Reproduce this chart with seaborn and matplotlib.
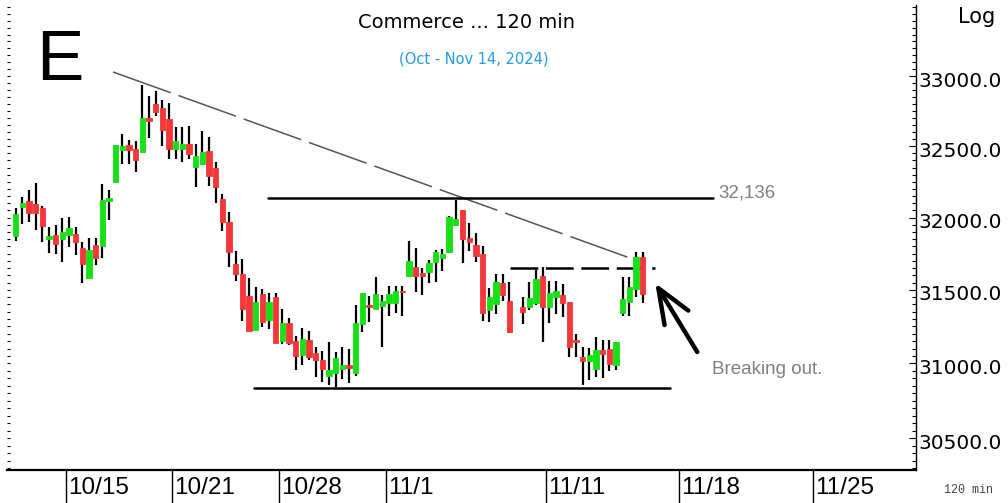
import numpy as np
import pandas as pd
import matplotlib
matplotlib.use("Agg")
import matplotlib.pyplot as plt
import matplotlib.transforms as mtransforms
from matplotlib.ticker import FixedLocator, FuncFormatter, NullFormatter
import seaborn as sns

nan = np.nan

# ---------------- data (120-min bars, Oct 11 - Nov 14, 2024) ----------------
bar_open = [31871, 32073, 32115, 32094, 32066, 31851, 31878, 31851, 31878, 31885,
            31788, 31581, 31809, 31802, 32115, 32248, 32474, 32509, 32481, 32460,
            32701, 32800, 32772, 32694, 32481, 32481, 32516, 32354, 32375, 32467,
            32347, 32129, 31969, 31678, 31609, 31458, 31226, 31472, 31294, 31451,
            31151, 31274, 31151, 31057, 31158, 31070, 31023, 30915, 30935, 30962,
            30989, 30935, 31267, 31396, 31369, 31389, 31410, 31410, 31492, 31595,
            31657, 31616, 31623, 31692, 31719, 31761, 31948, 32052, 31858, 31809,
            31747, 31362, 31403, 31547, 31424, nan, 31383, 31383, 31410, 31595,
            31383, 31451, 31465, 31417, 31158, 31043, 31016, 30962, 31090, 31097,
            30989, 31342, 31417, 31506, 31726]
bar_high = [32066, 32143, 32192, 32241, 32080, 31934, 31948, 31997, 32003, 31934,
            31830, 31858, 31858, 32234, 32192, 32509, 32587, 32544, 32537, 32936,
            32858, 32893, 32829, 32808, 32637, 32637, 32644, 32516, 32608, 32566,
            32389, 32164, 32038, 31767, 31712, 31581, 31520, 31506, 31478, 31478,
            31369, 31308, 31185, 31240, 31219, 31111, 31084, 31144, 31077, 31111,
            31097, 31396, 31478, 31458, 31588, 31465, 31526, 31526, 31526, 31837,
            31788, 31650, 31705, 31774, 31781, 32010, 32122, 32052, 31962, 31892,
            31802, 31513, 31609, 31609, 31554, nan, 31451, 31554, 31636, 31657,
            31561, 31561, 31540, 31417, 31199, 31111, 31104, 31178, 31158, 31158,
            31144, 31588, 31588, 31761, 31761]
bar_low = [31837, 31955, 31969, 31913, 31830, 31754, 31747, 31692, 31795, 31740,
           31547, 31581, 31671, 31719, 31983, 32248, 32375, 32375, 32319, 32460,
           32559, 32715, 32502, 32410, 32410, 32389, 32410, 32213, 32375, 32220,
           32101, 31906, 31657, 31561, 31287, 31219, 31226, 31246, 31233, 31138,
           31131, 31124, 30955, 30989, 31023, 30908, 30875, 30855, 30841, 30895,
           30868, 30915, 31212, 31280, 31369, 31111, 31321, 31342, 31321, 31595,
           31485, 31465, 31547, 31554, 31629, 31754, 31948, 31685, 31767, 31692,
           31287, 31280, 31335, 31424, 31206, nan, 31267, 31362, 31396, 31144,
           31274, 31335, 31314, 31043, 31043, 30855, 30888, 30908, 30902, 30949,
           30955, 31321, 31321, 31451, 31410]
bar_close = [32024, 32101, 32031, 32031, 31941, 31871, 31816, 31899, 31927, 31830,
             31678, 31774, 31719, 32122, 32136, 32509, 32502, 32474, 32403, 32701,
             32679, 32743, 32615, 32481, 32537, 32516, 32445, 32431, 32460, 32290,
             32213, 31969, 31761, 31609, 31369, 31219, 31417, 31280, 31417, 31138,
             31274, 31138, 31050, 31165, 31043, 31023, 30962, 30955, 31036, 30989,
             30969, 31274, 31478, 31383, 31472, 31424, 31472, 31492, 31485, 31698,
             31595, 31595, 31685, 31761, 31747, 32003, 31990, 31851, 31830, 31733,
             31342, 31451, 31554, 31465, 31212, nan, 31348, 31444, 31574, 31383,
             31478, 31492, 31410, 31111, 31144, 31016, 31057, 31090, 31063, 30996,
             31144, 31437, 31520, 31726, 31472]

tick_pos = [7.5, 23.5, 39.5, 55.5, 79.5, 99.5, 119.5]
tick_labels = ["10/15", "10/21", "10/28", "11/1", "11/11", "11/18", "11/25"]
y_major = [30500, 31000, 31500, 32000, 32500, 33000]

resistance_level = 32136
resistance_span = [37.9, 104.6]
support_level = 30834
support_span = [35.7, 98.1]
breakout_level = 31650
breakout_span = [74.1, 95.9]
trend_x = [14.6, 91.7]
trend_y = [33030, 31726]
arrow_head = (95.9, 31547)
arrow_tail = (102.2, 31077)

# ---------------- style ----------------
sns.set_theme(style="white")
plt.rcParams["font.family"] = ["DejaVu Sans"]
plt.rcParams["lines.scale_dashes"] = False

df = pd.DataFrame({"open": bar_open, "high": bar_high, "low": bar_low, "close": bar_close})
df["x"] = np.arange(len(df))
df["up"] = df["close"] >= df["open"]
df["bottom"] = df[["open", "close"]].min(axis=1)
df["height"] = (df["close"] - df["open"]).abs()

W, H = 1008, 503
fig = plt.figure(figsize=(W / 100, H / 100), dpi=100)
rect = [7 / W, 1 - 470 / H, (916 - 7) / W, (470 - 5) / H]
ax = fig.add_axes(rect)
ax.set_facecolor("white")

ax.set_yscale("log")
ax.set_ylim(30289, 33515)
ax.set_xlim(-1.3, 135.0)

# wicks
ok = df.dropna()
ax.vlines(ok["x"], ok["low"], ok["high"], color="black", lw=1.6, zorder=2)
# bodies
green, red = "#16e016", "#f5373a"
cols = np.where(ok["up"], green, red)
ax.bar(ok["x"], ok["height"], bottom=ok["bottom"], width=0.8, color=cols,
       edgecolor=cols, linewidth=0.6, zorder=3)

# level lines
sns.lineplot(x=resistance_span, y=[resistance_level] * 2, ax=ax, color="black", lw=1.8, zorder=4)
sns.lineplot(x=support_span, y=[support_level] * 2, ax=ax, color="black", lw=1.8, zorder=4)
ax.plot(breakout_span, [breakout_level] * 2, color="black", lw=1.8,
        dashes=(20, 5.5), zorder=1)
ax.plot(trend_x, trend_y, color="#555555", lw=1.1, dashes=(44, 6), zorder=1)

ax.text(105.3, 32171, "32,136", color="#808080", fontsize=13.5,
        family="Liberation Sans", ha="left", va="center")
ax.text(104.4, 30962, "Breaking out.", color="#808080", fontsize=13.5,
        family="Liberation Sans", ha="left", va="center")
ax.annotate("", xy=arrow_head, xytext=arrow_tail,
            arrowprops=dict(arrowstyle="->,head_length=1.25,head_width=0.5",
                            lw=3.2, color="black", mutation_scale=20,
                            shrinkA=0, shrinkB=0, capstyle="round"))

# spines
for s in ["top", "left"]:
    ax.spines[s].set_visible(False)
ax.spines["right"].set_color("black")
ax.spines["right"].set_linewidth(1.0)
ax.spines["bottom"].set_color("black")
ax.spines["bottom"].set_linewidth(1.6)

# y axis (right)
ax.yaxis.set_major_locator(FixedLocator(y_major))
ax.yaxis.set_minor_locator(FixedLocator(np.arange(30300, 33550, 50)))
ax.yaxis.set_major_formatter(FuncFormatter(lambda v, p: f"{v:.1f}"))
ax.yaxis.set_minor_formatter(NullFormatter())
ax.tick_params(axis="y", which="both", left=False, right=True, labelleft=False,
               labelright=True, direction="in", color="black", width=0.8)
ax.tick_params(axis="y", which="major", length=5, pad=2, labelsize=14.5, labelcolor="black")
ax.tick_params(axis="y", which="minor", length=3)
yoff = mtransforms.ScaledTranslation(0, -3 / 100, fig.dpi_scale_trans)
for lab in ax.yaxis.get_ticklabels(which="major"):
    pass
for t in ax.yaxis.get_major_ticks():
    t.label2.set_transform(t.label2.get_transform() + yoff)

# x axis
ax.set_xticks(tick_pos, tick_labels)
ax.xaxis.set_minor_locator(FixedLocator([]))
ax.tick_params(axis="x", which="major", bottom=True, direction="out", length=24,
               width=1.0, color="black", pad=-19, labelsize=17.5, labelcolor="black")
offset = mtransforms.ScaledTranslation(2 / 100, 0, fig.dpi_scale_trans)
for lab in ax.get_xticklabels():
    lab.set_horizontalalignment("left")
    lab.set_family("Liberation Sans")
    lab.set_transform(lab.get_transform() + offset)
ax.set_xlabel("")
ax.set_ylabel("")
ax.grid(False)

# left-edge small ticks
axL = fig.add_axes(rect, sharey=ax, frameon=False)
axL.patch.set_visible(False)
axL.set_xticks([])
axL.tick_params(axis="y", which="both", left=True, right=False, labelleft=False,
                labelright=False, direction="in", length=2.5, width=0.8, color="black")

# titles / labels
fig.text(467 / W, 1 - 22 / H, "Commerce ... 120 min", ha="center", va="center",
         fontsize=14, color="black")
fig.text(474 / W, 1 - 59 / H, "(Oct - Nov 14, 2024)", ha="center", va="center",
         fontsize=10.5, color="#1f9bea")
fig.text(36 / W, 1 - 80 / H, "E", ha="left", va="baseline", fontsize=51,
         family="Liberation Sans", color="black")
fig.text(958 / W, 1 - 17 / H, "Log", ha="left", va="center", fontsize=15, color="black")
fig.text(944 / W, 1 - 490 / H, "120 min", ha="left", va="center", fontsize=8.5,
         family="Liberation Mono", color="#444444")

fig.savefig("out.png", dpi=100)
